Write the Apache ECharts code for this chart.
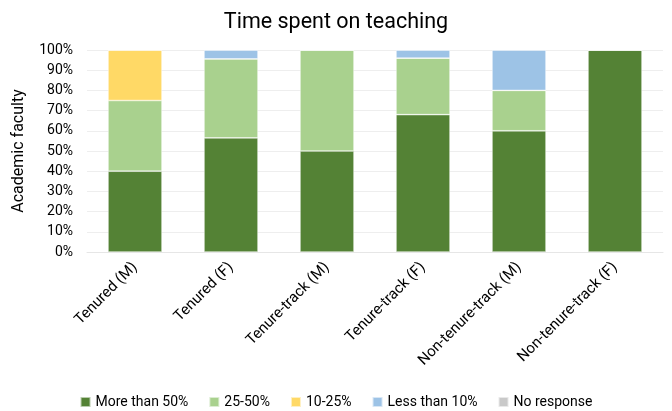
<!DOCTYPE html>
<html><head><meta charset="utf-8">
<script src="https://cdn.jsdelivr.net/npm/echarts@6/dist/echarts.min.js"></script>
<style>html,body{margin:0;padding:0;background:#fff}#c{width:672px;height:411px}</style>
</head><body><div id="c"></div>
<script>
const categories = ['Tenured (M)','Tenured (F)','Tenure-track (M)','Tenure-track (F)','Non-tenure-track (M)','Non-tenure-track (F)'];
const seriesNames = ['More than 50%','25-50%','10-25%','Less than 10%','No response'];
const moreThan50 = [40, 56.5, 50, 68, 60, 100];
const from25to50 = [35, 39.1, 50, 28, 20, 0];
const from10to25 = [25, 0, 0, 0, 0, 0];
const lessThan10 = [0, 4.4, 0, 4, 20, 0];
const noResponse = [0, 0, 0, 0, 0, 0];
const colors = ['#548235','#A9D18E','#FFD966','#9DC3E6','#C9C9C9'];
const values = [moreThan50, from25to50, from10to25, lessThan10, noResponse];
const font = 'Roboto';
const chart = echarts.init(document.getElementById('c'));
chart.setOption({
  animation:false,
  textStyle:{fontFamily:font},
  title:{text:'Time spent on teaching',left:'center',top:7,textStyle:{fontFamily:font,fontSize:21.5,fontWeight:'normal',color:'#000'}},
  legend:{bottom:-3,left:'center',itemWidth:10,itemHeight:10,itemGap:20,icon:'rect',textStyle:{fontFamily:font,fontSize:14,color:'#000'},data:seriesNames},
  grid:{left:87,right:9,top:50,bottom:159,containLabel:false},
  xAxis:{type:'category',data:categories,axisTick:{show:false},axisLine:{lineStyle:{color:'#e6e6e6'}},
    axisLabel:{rotate:45,interval:0,fontFamily:font,fontSize:15,color:'#000',margin:13}},
  yAxis:{type:'value',min:0,max:100,interval:10,name:'Academic faculty',nameLocation:'middle',nameGap:60,
    nameTextStyle:{fontFamily:font,fontSize:16,color:'#000'},
    axisLabel:{formatter:'{value}%',fontFamily:font,fontSize:14,color:'#000',margin:14},
    splitLine:{lineStyle:{color:'#eeeeee'}}},
  series: seriesNames.map((n,i)=>({name:n,type:'bar',stack:'t',barWidth:54,data:values[i],
    itemStyle:{color:colors[i],borderColor:'rgba(255,255,255,0.6)',borderWidth:0.7}}))
});
</script></body></html>
